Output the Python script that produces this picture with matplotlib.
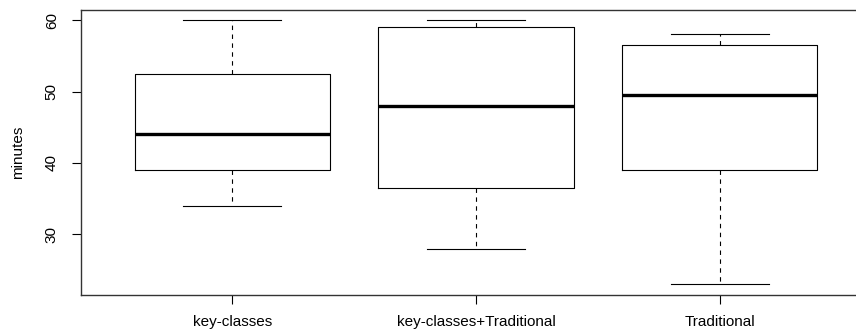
import matplotlib
matplotlib.use("Agg")
import matplotlib.pyplot as plt

plt.rcParams["font.family"] = ["Liberation Sans", "DejaVu Sans"]

# five-number summaries per group (minutes)
groups = ["key-classes", "key-classes+Traditional", "Traditional"]
whisker_low = [34, 28, 23]
q1 = [39, 36.5, 39]
median = [44, 48, 49.5]
q3 = [52.5, 59, 56.5]
whisker_high = [60, 60, 58]

stats = [
    dict(label=g, whislo=lo, q1=a, med=m, q3=b, whishi=hi)
    for g, lo, a, m, b, hi in zip(groups, whisker_low, q1, median, q3, whisker_high)
]

W, H = 856, 333
fig = plt.figure(figsize=(W / 100, H / 100), dpi=100, facecolor="white")
# plot region runs past the right edge, like the cropped R device
ax = fig.add_axes([81 / W, 1 - 295 / H, (871 - 81) / W, (295 - 9.5) / H])

line = dict(color="black", linewidth=0.8)
ax.bxp(
    stats,
    positions=[1, 2, 3],
    widths=0.8,
    showfliers=False,
    boxprops=line,
    whiskerprops=dict(color="black", linewidth=0.8, dashes=(4, 4)),
    capprops=line,
    capwidths=0.4,
    medianprops=dict(color="black", linewidth=2.4, solid_capstyle="butt"),
)

lo_all, hi_all = min(whisker_low), max(whisker_high)
pad = 0.04 * (hi_all - lo_all)
ax.set_ylim(lo_all - pad, hi_all + pad)
ax.set_xlim(0.38, 3.62)

ax.set_yticks([30, 40, 50, 60])
ax.set_yticklabels(["30", "40", "50", "60"], rotation=90, va="center")
ax.set_xticks([1, 2, 3])
ax.set_xticklabels(groups)
ax.tick_params(axis="both", direction="out", length=6.5, width=0.8, labelsize=11, colors="black")
ax.tick_params(axis="y", pad=9.5)
ax.tick_params(axis="x", pad=8)
ax.set_ylabel("minutes", fontsize=11, labelpad=14)

for side in ["left", "bottom", "top"]:
    ax.spines[side].set_linewidth(1.0)
    ax.spines[side].set_color("#333333")
ax.spines["right"].set_visible(False)

fig.savefig("out.png", dpi=100, facecolor="white")
plt.close(fig)
